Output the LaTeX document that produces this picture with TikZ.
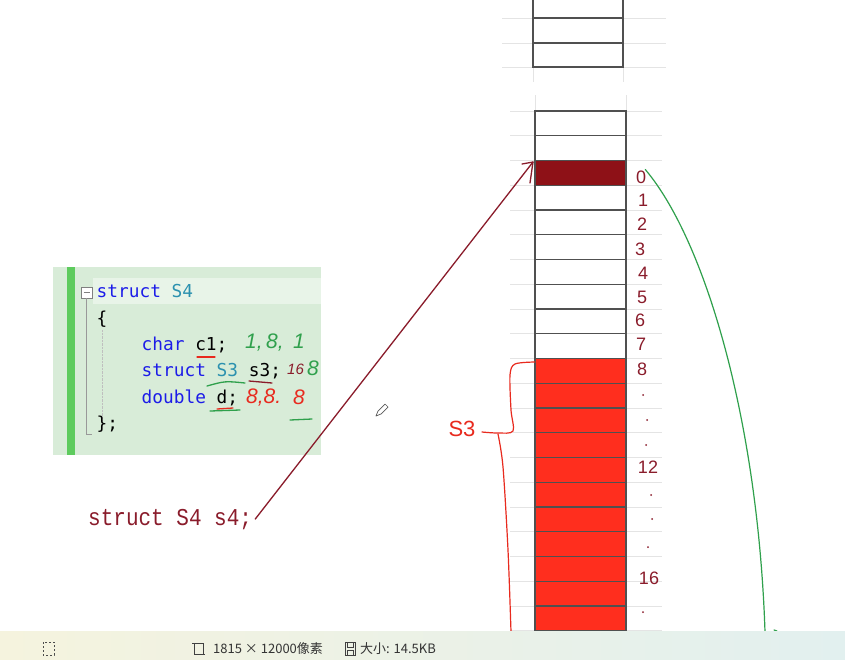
\documentclass[tikz,border=0pt]{standalone}
\usepackage{fontspec}
\setmainfont{Liberation Sans}
\newfontfamily\codefont{DejaVu Sans Mono}
\newfontfamily\declfont{Liberation Mono}
\newfontfamily\cjkfont{Noto Sans CJK SC}
\usetikzlibrary{calc}
\definecolor{codebg}{HTML}{D8ECD8}
\definecolor{codehl}{HTML}{E8F4E8}
\definecolor{codebar}{HTML}{5DCB5D}
\definecolor{kwblue}{HTML}{1C1CE8}
\definecolor{typeteal}{HTML}{2B91AF}
\definecolor{darkcell}{HTML}{8E1117}
\definecolor{redcell}{HTML}{FF2E1E}
\definecolor{ink}{HTML}{8A1C2B}
\definecolor{pengreen}{HTML}{2FA04C}
\definecolor{penred}{HTML}{E82A1E}
\definecolor{gridline}{HTML}{E4E4E4}
\definecolor{cellline}{HTML}{505050}
\definecolor{barleft}{HTML}{F5F3DE}
\definecolor{barright}{HTML}{E2F0EF}
\begin{document}
\begin{tikzpicture}[x=1pt,y=-1pt,
  cell/.style={draw=cellline,line width=1.1pt,minimum width=91pt,minimum height=24.75pt,inner sep=0pt,outer sep=0pt},
  code/.style={anchor=base west,inner sep=0pt,font=\codefont\fontsize{17.8}{18}\selectfont},
  num/.style={text=ink,font=\fontsize{18}{18}\selectfont,inner sep=0pt},
  dotmark/.style={fill=ink,circle,inner sep=0pt,minimum size=2pt},
  hand/.style={inner sep=0pt,anchor=west,font=\fontsize{19}{19}\selectfont\itshape},
  penline/.style={line width=1.3pt,line cap=round},
  bartext/.style={inner sep=0pt,anchor=west,font=\cjkfont\fontsize{13}{13}\selectfont,text=black!80}
]
\useasboundingbox (0,0) rectangle (845,659);
\fill[white] (0,0) rectangle (845,659);
% faint grid lines
\foreach \y in {18,43,67} \draw[gridline,line width=0.8pt] (502,\y) -- (666,\y);
\foreach \k in {0,...,21} \draw[gridline,line width=0.8pt] (510,111+24.75*\k) -- (662,111+24.75*\k);
\draw[gridline,line width=0.8pt] (533,67) -- (533,82) (623,67) -- (623,82) (535,95) -- (535,111) (626,95) -- (626,111);
% top block
\draw[cellline,line width=1.1pt] (533,-2) rectangle (623,67) (533,18) -- (623,18) (533,43) -- (623,43);
% memory cells
\foreach \k in {0,...,21}{
  \pgfmathsetmacro\cy{111+24.75*\k+12.375}
  \ifnum\k=2 \def\cf{darkcell}\else\ifnum\k>9 \def\cf{redcell}\else\def\cf{white}\fi\fi
  \node[cell,fill=\cf] (r\k) at (580.5,\cy) {};
}
% offset labels
\node[num] (n0) at (641,177) {0};
\node[num] (n1) at (643,200) {1};
\node[num] (n2) at (642,224) {2};
\node[num] (n3) at (640,249) {3};
\node[num] (n4) at (643,273) {4};
\node[num] (n5) at (642,297) {5};
\node[num] (n6) at (640,320) {6};
\node[num] (n7) at (641,344) {7};
\node[num] (n8) at (642,369) {8};
\node[dotmark] (d9) at (643,395) {};
\node[dotmark] (d10) at (647,420) {};
\node[dotmark] (d11) at (646,445) {};
\node[num] (n12) at (648,467) {12};
\node[dotmark] (d13) at (651,495) {};
\node[dotmark] (d14) at (652,519) {};
\node[dotmark] (d15) at (648,547) {};
\node[num] (n16) at (649,578) {16};
\node[dotmark] (d17) at (643,612) {};
% green curve
\draw[pengreen,line width=1.2pt,line cap=round] ($(n0.north east)+(-1,-1)$) .. controls (705,240) and (758,420) .. (765,632);
\draw[pengreen,line width=1.2pt,line cap=round] (774,630) -- (777,631);
% red bracket for s3
\draw[penred,line width=1.2pt,line cap=round,line join=round] plot[smooth,tension=0.5] coordinates {(535,362) (515,364) (510,375) (511,410) (513,431) (498,433) (482,432)};
\draw[penred,line width=1.2pt,line cap=round] plot[smooth,tension=0.5] coordinates {(498,434) (503,467) (508,550) (511,632)};
\node[inner sep=0pt,text=penred,font=\fontsize{22}{22}\selectfont] (s3lbl) at (462,429) {S3};
% code box
\fill[codebg] (53,267) rectangle (321,455);
\fill[codehl] (93,278) rectangle (321,304);
\fill[codebar] (67,267) rectangle (75,455);
\draw[gray,fill=white,line width=0.7pt] (81,287) rectangle (92,298);
\draw[gray,line width=0.8pt] (83.5,292.5) -- (89.5,292.5);
\draw[gray!80,line width=0.7pt] (86.5,298) -- (86.5,434) -- (92,434);
\draw[gray!50,densely dotted] (102,330) -- (102,420);
\node[code] (l1) at (96.5,297) {\textcolor{kwblue}{struct} \textcolor{typeteal}{S4}};
\node[code] (l2) at (96.5,324) {\{};
\node[code] (l3) at (141.5,350) {\textcolor{kwblue}{char} c1;};
\node[code] (l4) at (141.5,376.5) {\textcolor{kwblue}{struct} \textcolor{typeteal}{S3} s3;};
\node[code] (l5) at (141.5,403) {\textcolor{kwblue}{double} d;};
\node[code] (l6) at (96.5,429) {\};};
% handwritten notes in code box
\node[hand,text=pengreen,font=\fontsize{21}{21}\selectfont\itshape] (a1) at (245,343) {1,\,8,\, 1};
\node[hand,text=ink,font=\fontsize{15}{15}\selectfont\itshape] (a2) at (287,369) {16};
\node[hand,text=pengreen,font=\fontsize{21}{21}\selectfont\itshape] (a3) at (307,368) {8};
\node[hand,text=penred,font=\fontsize{21}{21}\selectfont\itshape] (a4) at (246,398) {8,8.};
\node[hand,text=penred,font=\fontsize{21}{21}\selectfont\itshape] (a5) at (293,397) {8};
\draw[penred,penline] (197,357) -- (215,357);
\draw[pengreen,penline] (207,386) .. controls (225,381) .. (245,383);
\draw[ink,penline] (249,381) -- (272,383);
\draw[pengreen,penline] (210,411) -- (240,410);
\draw[penred,penline] (217,409) -- (233,408);
\draw[pengreen,penline] (290,420) -- (312,419);
% pencil cursor
\draw[gray!70!black,line width=0.7pt,line join=round] (376,416) -- (378,411) -- (385,404) -- (388,407) -- (381,414) -- cycle;
% declaration and arrow
\node[anchor=base west,inner sep=0pt,text=ink,font=\declfont\fontsize{21}{21}\selectfont] (s4) at (88,525) {\scalebox{1}[1.15]{struct S4 s4;}};
\coordinate (tip) at (533,162);
\draw[ink,line width=1.3pt,line cap=round] ($(s4.east)+(3,0)$) -- (tip);
\draw[ink,line width=1.3pt,line cap=round,line join=round] (522,164) -- (tip) -- (530,183);
% status bar
\shade[left color=barleft,right color=barright] (0,631) rectangle (845,659);
\draw[black!70,line width=0.8pt,dash pattern=on 2pt off 2pt] (43,642) rectangle (54,655);
\draw[black!75,line width=0.8pt] (194,643) rectangle (203,654);
\draw[black!75,line width=0.8pt] (192,643) -- (194,643) (203,654) -- (205,654);
\node[bartext] (dim) at (213,648.5) {1815 × 12000像素};
\draw[black!75,line width=0.8pt] (345,642) rectangle (355,655) (347,642) -- (347,647) -- (353,647) -- (353,642) (347,655) -- (347,650) -- (353,650) -- (353,655);
\node[bartext] (size) at (360,648.5) {大小: 14.5KB};
\end{tikzpicture}
\end{document}
